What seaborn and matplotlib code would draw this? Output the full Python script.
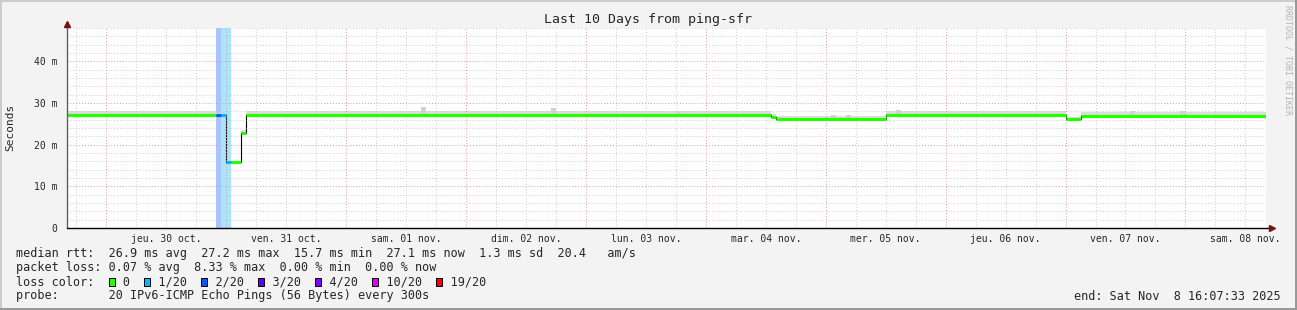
import numpy as np
import pandas as pd
import matplotlib
matplotlib.use("Agg")
import matplotlib.pyplot as plt
import matplotlib.dates as mdates
from matplotlib.patches import Rectangle
from matplotlib.lines import Line2D
from matplotlib.ticker import MultipleLocator, FuncFormatter, NullFormatter
import seaborn as sns

# ---------------- data ----------------
seg_start = ["2025-10-29 16:00", "2025-10-30 22:00", "2025-10-30 23:00",
             "2025-10-31 00:00", "2025-10-31 01:00", "2025-10-31 03:00",
             "2025-10-31 04:00", "2025-11-04 13:00", "2025-11-04 14:00",
             "2025-11-05 12:00", "2025-11-07 00:00", "2025-11-07 03:00"]
seg_rtt_ms = [27.2, 27.2, 27.2, 15.8, 15.8, 22.8, 27.2, 26.7, 26.1, 27.2, 26.1, 27.0]
seg_smoke_top_ms = [28.0, 27.7, 27.6, 16.6, 16.2, 23.5, 28.0, 27.4, 26.8, 28.0, 26.7, 27.9]
seg_smoke_low_ms = [26.7, 26.8, 26.8, 15.3, 15.4, 22.4, 26.7, 26.3, 25.7, 26.7, 25.7, 26.6]
seg_loss = [0, 2, 1, 1, 0, 0, 0, 0, 0, 0, 0, 0]

spike_time = ["2025-11-01 15:00", "2025-11-02 17:00", "2025-11-03 18:00",
              "2025-11-05 01:00", "2025-11-05 04:00", "2025-11-05 14:00",
              "2025-11-07 13:00", "2025-11-07 23:00"]
spike_top_ms = [29.0, 28.8, 28.2, 27.1, 27.1, 28.4, 28.1, 28.0]

range_start = "2025-10-29 16:07:33"
range_end = "2025-11-08 16:07:33"

loss_labels = ["0", "1/20", "2/20", "3/20", "4/20", "10/20", "19/20"]
loss_colors = ["#26ff00", "#00b8ff", "#0059ff", "#5e00ff", "#7e00ff", "#dd00ff", "#ff0000"]
loss_index = {0: 0, 1: 1, 2: 2, 3: 3, 4: 4, 10: 5, 19: 6}

title = "Last 10 Days from ping-sfr"
ylabel = "Seconds"
fr_days = ["lun.", "mar.", "mer.", "jeu.", "ven.", "sam.", "dim."]
fr_months = ["janv.", "févr.", "mars", "avr.", "mai", "juin", "juil.",
             "août", "sept.", "oct.", "nov.", "déc."]
stat_lines = [
    "median rtt:  26.9 ms avg  27.2 ms max  15.7 ms min  27.1 ms now  1.3 ms sd  20.4   am/s",
    "packet loss: 0.07 % avg  8.33 % max  0.00 % min  0.00 % now",
    None,
    "probe:       20 IPv6-ICMP Echo Pings (56 Bytes) every 300s",
]
end_text = "end: Sat Nov  8 16:07:33 2025"
credit = "RRDTOOL / TOBI OETIKER"

# ---------------- figure ----------------
W, H = 1297, 310
sns.set_style("white")
plt.rcParams["font.family"] = ["DejaVu Sans Mono", "DejaVu Sans"]
MONO = "DejaVu Sans Mono"

fig = plt.figure(figsize=(W / 100, H / 100), dpi=100, facecolor="#f3f3f3")
ax = fig.add_axes([67 / W, 1 - 228 / H, (1266 - 67) / W, 200 / H])
ax.set_facecolor("white")

t0 = pd.Timestamp(range_start)
t1 = pd.Timestamp(range_end)
starts = pd.to_datetime(seg_start)
ends = list(starts[1:]) + [t1]
df = pd.DataFrame({"time": list(starts) + [t1],
                   "rtt": seg_rtt_ms + [seg_rtt_ms[-1]]})

# loss bands
for s, e, l in zip(starts, ends, seg_loss):
    if l > 0:
        ax.axvspan(s, e, color=loss_colors[loss_index[l]], alpha=0.35, lw=0, zorder=1)

# smoke
xs = mdates.date2num(list(starts) + [t1])
ax.fill_between(xs, seg_smoke_low_ms + [seg_smoke_low_ms[-1]],
                seg_smoke_top_ms + [seg_smoke_top_ms[-1]],
                step="post", color="#dcdcdc", lw=0, zorder=1.5)
sp = pd.to_datetime(spike_time)
for t, top in zip(sp, spike_top_ms):
    i = np.searchsorted(starts, t, side="right") - 1
    base = seg_rtt_ms[i]
    ax.bar(mdates.date2num(t), top - base, bottom=base, width=1 / 24, align="edge",
           color="#d2d2d2", lw=0, zorder=1.6)

# median line: black connectors + loss-coloured segments
sns.lineplot(data=df, x="time", y="rtt", drawstyle="steps-post", color="black",
             lw=0.8, estimator=None, legend=False, ax=ax, zorder=2)
ax.hlines(seg_rtt_ms, mdates.date2num(starts), mdates.date2num(ends),
          colors=[loss_colors[loss_index[l]] for l in seg_loss], lw=2.3, zorder=3)

# axes
ax.set_xlim(t0, t1)
ax.set_ylim(0, 48)
ax.set_xlabel("")
ax.set_ylabel("")

ax.yaxis.set_major_locator(MultipleLocator(10))
ax.yaxis.set_minor_locator(MultipleLocator(2))
ax.yaxis.set_major_formatter(FuncFormatter(lambda v, p: "0" if v == 0 else f"{v:.0f} m"))

ax.xaxis.set_major_locator(mdates.DayLocator())
ax.xaxis.set_minor_locator(mdates.HourLocator(byhour=[0, 6, 12, 18]))
ax.xaxis.set_major_formatter(NullFormatter())


def xfmt(x, pos):
    d = mdates.num2date(x)
    if d.hour == 12:
        return f"{fr_days[d.weekday()]} {d.day:02d} {fr_months[d.month - 1]}"
    return ""


ax.xaxis.set_minor_formatter(FuncFormatter(xfmt))

dot = (0, (1, 2))
ax.grid(which="minor", color="#cdcdcd", lw=0.7, ls=dot)
ax.grid(which="major", color="#e29a9a", lw=0.7, ls=dot)
ax.set_axisbelow(False)
for gl in ax.get_xgridlines() + ax.get_ygridlines():
    gl.set_zorder(1.2)

ax.tick_params(axis="x", which="minor", length=2, color="#c8c8c8", labelsize=7, pad=2,
               labelfontfamily=MONO)
ax.tick_params(axis="x", which="major", length=3, color="#e29a9a")
ax.tick_params(axis="y", which="major", length=3, color="#555555", labelsize=7, pad=4,
               labelfontfamily=MONO)
ax.tick_params(axis="y", which="minor", length=0)

for s in ["top", "right", "left", "bottom"]:
    ax.spines[s].set_visible(False)
# axis lines with arrows
arrow_c = "#7a1010"
ax.add_line(Line2D([0, 0], [0, 1.0 + 4 / 200], transform=ax.transAxes, color="#606060",
                   lw=1, clip_on=False, zorder=5))
ax.add_line(Line2D([0, 1 + 4 / 1199], [0, 0], transform=ax.transAxes, color="black",
                   lw=1, clip_on=False, zorder=5))
ax.plot([0], [1 + 4 / 200], marker="^", ms=4, color=arrow_c, transform=ax.transAxes,
        clip_on=False, zorder=6)
ax.plot([1 + 6 / 1199], [0], marker=">", ms=4, color=arrow_c, transform=ax.transAxes,
        clip_on=False, zorder=6)

# titles / labels
fig.text(648 / W, 1 - 19 / H, title, ha="center", va="center", fontsize=9.5, family=MONO)
fig.text(10 / W, 1 - 127 / H, ylabel, ha="center", va="center", rotation=90,
         fontsize=8, family=MONO)
fig.text(1288 / W, 1 - 5 / H, credit, ha="center", va="top", rotation=270,
         fontsize=6, family=MONO, color="#b4b4b4")

# stats block
x0 = 16
cw = 7.11
rows = [254, 268, 282, 296]
for y, line in zip(rows, stat_lines):
    if line is not None:
        fig.text(x0 / W, 1 - y / H, line, ha="left", va="center", fontsize=8.5, family=MONO)

s = "loss color:  "
sq_cols = []
for lab in loss_labels:
    sq_cols.append(len(s))
    s += "  " + lab + "  "
fig.text(x0 / W, 1 - rows[2] / H, s.rstrip(), ha="left", va="center", fontsize=8.5, family=MONO)
for c, col in zip(sq_cols, loss_colors):
    px = x0 + c * cw + 0.5
    fig.patches.append(Rectangle((px / W, 1 - (rows[2] + 4) / H), 6 / W, 8 / H,
                                 transform=fig.transFigure, facecolor=col,
                                 edgecolor="black", lw=0.7))

fig.text(1281 / W, 1 - rows[3] / H, end_text, ha="right", va="center", fontsize=8.5, family=MONO)

# 3D border
fig.patches.append(Rectangle((0, 1 - 2 / H), 1, 2 / H, transform=fig.transFigure,
                             facecolor="#cccccc", lw=0))
fig.patches.append(Rectangle((0, 0), 2 / W, 1, transform=fig.transFigure,
                             facecolor="#cccccc", lw=0))
fig.patches.append(Rectangle((0, 0), 1, 2 / H, transform=fig.transFigure,
                             facecolor="#999999", lw=0))
fig.patches.append(Rectangle((1 - 2 / W, 0), 2 / W, 1, transform=fig.transFigure,
                             facecolor="#999999", lw=0))

fig.savefig("out.png", dpi=100, facecolor=fig.get_facecolor())
